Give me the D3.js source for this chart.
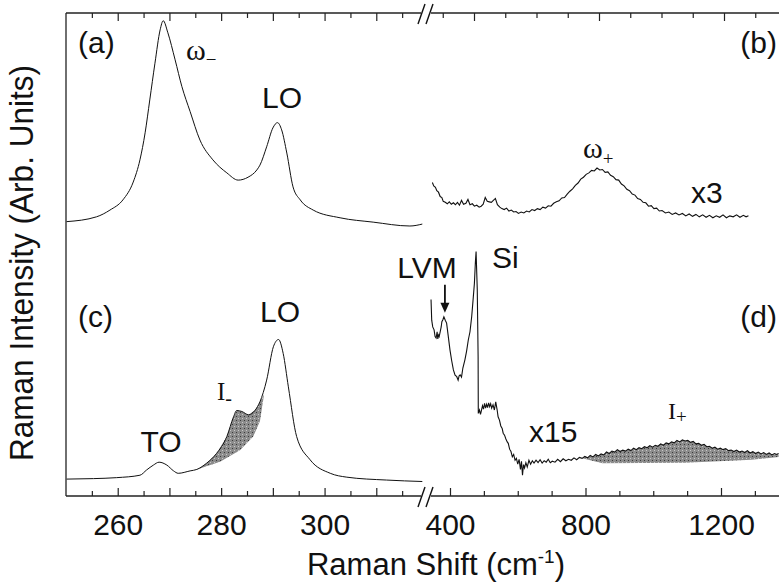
<!DOCTYPE html>
<html>
<head>
<meta charset="utf-8">
<script src="https://d3js.org/d3.v7.min.js"></script>
<style>
body { margin: 0; background: #fff; }
text { font-family: "Liberation Sans", Arial, sans-serif; fill: #111; }
.serif { font-family: "Liberation Serif", "Times New Roman", serif; }
</style>
</head>
<body>
<svg id="chart" width="779" height="583"></svg>
<script>
// panel (a): low frequency, top
var aShift = [250.1, 255.9, 258.5, 261, 263, 264.3, 265.3, 266.2, 267.2, 268.2, 268.8, 269.7, 271.1, 272.4, 274, 275.9, 278.4, 281.1, 283.3, 285.2, 286.9, 287.5, 288.8, 290, 290.9, 291.7, 292.7, 293.9, 295.3, 297.8, 303, 309.4, 316.5, 318.9];
var aInt = [56.8, 57.8, 59.2, 61.3, 65, 69.6, 75.2, 82, 89.6, 96.5, 98.4, 95.9, 90.3, 84.8, 79.6, 73.7, 69.6, 66.9, 65.4, 66, 67.5, 68.5, 72.3, 76.2, 77.3, 75.8, 71, 64, 61.3, 59.2, 57.6, 56.7, 55.9, 56.3];

// panel (b): high frequency x3, top
var bShift = [348,352,357,361,366,371,376,380,386,392,398,404,410,416,422,428,434,440,447,453,459,466,472,479,486,492,498,504,510,516,522,528,534,540,547,553,560,567,574,581,588,595,602,610,618,626,634,642,650,658,666,674,682,690,698,706,714,722,730,738,746,754,762,770,778,786,794,802,810,818,826,834,842,850,858,866,874,882,890,898,906,914,922,930,938,946,954,962,970,978,986,994,1002,1010,1018,1026,1036,1046,1056,1066,1076,1086,1096,1106,1116,1126,1136,1146,1156,1166,1176,1186,1196,1206,1216,1226,1236,1246,1256,1266,1274,1281];
var bInt = [64.9,64.2,63.9,63.2,62.9,62.0,61.8,61.0,60.8,60.5,60.9,60.4,60.7,60.3,60.8,60.2,61.2,60.4,60.6,61.4,60.3,60.5,60.0,60.2,59.8,60.0,60.4,61.8,61.0,60.9,60.8,61.2,61.6,60.3,59.8,59.5,59.3,59.6,59.0,59.2,58.8,58.9,58.5,58.8,58.6,59.0,58.8,59.3,59.1,59.5,59.3,59.8,59.6,60.1,60.0,60.6,60.9,61.1,61.7,61.8,62.5,63.1,63.6,64.3,64.8,65.6,66.0,66.6,66.9,67.4,67.3,67.9,67.5,67.6,67.0,67.1,66.4,66.1,65.5,65.4,64.6,64.2,63.5,63.2,62.5,62.3,61.6,61.4,60.8,60.7,60.0,60.1,59.5,59.6,59.0,59.1,58.6,58.8,58.3,58.6,58.2,58.5,58.0,58.4,57.9,58.3,57.8,58.2,57.7,58.1,57.6,58.0,57.7,58.2,57.6,58.0,57.8,58.2,57.7,58.1,57.8,58.0];

// panel (c): low frequency, bottom
var cShift = [250.1, 255.3, 259.8, 264.3, 265.6, 266.9, 268, 269.5, 270.8, 271.7, 274, 275.3, 277.2, 279.1, 281.1, 282.4, 283, 284, 285.3, 286.6, 287.5, 288.8, 290.1, 291.1, 292, 293, 294.6, 297.2, 301.1, 304.3, 312, 318.9];
var cInt = [3.5, 3.6, 3.8, 4.3, 5.4, 6.4, 7, 6.4, 5.2, 4.7, 5.2, 5.5, 6.8, 8.8, 12.3, 16.4, 17.7, 17.5, 16.8, 17.8, 19.5, 24, 30.9, 32.4, 29.5, 22.6, 12.3, 7.5, 4.7, 3.9, 3.3, 3];
// lower edge of the shaded I- band
var minusBaseShift = [288.3, 287.5, 286.2, 283.7, 279.8, 275.3];
var minusBaseInt = [21, 15.5, 12.3, 9.5, 7.1, 5.5];

// panel (d): high frequency x15, bottom
var dShift = [344,346,349,353,356,359,362,364,366,368,371,374,376,379,382,386,390,395,400,405,410,415,420,424,427,430,434,438,444,449,454,459,464,468,472,475,477,480.5,483,483.5,487,490,493,496,499,502,505,508,511,514,517,520,523,527,531,535,539,542,546,550,554,557,561,565,569,572,576,580,584,588,592,596,600,604,608,611,614,617,620,624,628,633,638,643,648,654,660,666,672,678,684,690,696,702,710,718,726,734,742,750,758,766,774,782,790,798,806,814,822,830,838,846,854,862,870,878,886,894,902,910,918,926,934,942,950,958,966,974,982,990,998,1006,1014,1022,1030,1038,1046,1054,1062,1070,1078,1086,1094,1102,1110,1118,1126,1134,1142,1150,1158,1166,1174,1182,1190,1198,1206,1214,1222,1230,1238,1246,1254,1262,1270,1278,1286,1294,1302,1310,1318,1326,1334,1342,1350,1358,1364,1370];
var dInt = [40.7,36.4,35.0,34.4,33.0,32.7,34.0,32.5,33.3,33.0,34.0,35.0,36.1,36.5,37.1,36.4,35.8,33.0,30.2,28.0,26.1,25.0,24.7,24.0,24.9,25.1,24.6,26.5,28.2,30.0,32.3,34.0,37.1,40.5,44.0,48.5,50.6,42.7,28.8,17.1,17.8,16.9,17.8,18.7,18.0,19.2,18.2,19.0,18.3,19.3,18.5,19.1,18.2,18.9,17.8,19.5,17.9,16.4,15.7,14.5,14.0,13.0,12.6,11.8,11.2,10.9,9.7,9.2,8.1,8.6,7.4,7.8,6.6,7.6,5.5,7.2,4.3,6.5,5.8,6.9,6.0,7.4,6.6,7.3,6.8,7.4,6.9,7.5,6.8,7.3,7.0,7.6,6.9,7.2,7.0,7.6,7.1,7.7,7.3,7.6,7.4,7.9,7.5,8.0,7.8,8.2,7.9,8.4,8.1,8.6,8.3,8.7,8.5,9.1,8.8,9.3,9.1,9.6,9.2,9.5,9.3,9.7,9.4,9.9,9.6,10.0,9.8,10.2,10.0,10.4,10.1,10.5,10.3,10.8,10.5,11.0,10.8,11.2,11.0,11.5,11.2,11.6,11.4,11.5,11.1,11.3,10.8,10.9,10.5,10.7,10.2,10.3,9.9,10.1,9.7,9.9,9.6,9.8,9.4,9.5,9.2,9.5,9.1,9.3,9.0,9.4,8.9,9.2,8.8,9.1,8.7,9.0,8.6,8.9,8.5,8.8,8.6,8.8];
// lower edge of the shaded I+ band
var plusBaseShift = [1370, 1290, 1095, 850, 790];
var plusBaseInt = [8.1, 7.5, 6.9, 6.8, 7.8];

var lvmShift = 385, lvmInt = 37.1;

// tick values
var leftMajor = [260, 270, 280, 290, 300, 310];
var leftMinor = [255, 265, 275, 285, 295, 305, 315];
var leftLabels = [260, 280, 300];
var rightMajor = [400, 800, 1200];
var rightMinor = [500, 600, 700, 900, 1000, 1100, 1300];
var topRightMinor = [300, 500, 600, 700, 900, 1000, 1100, 1300];
var rightLabels = [400, 800, 1200];

var x0 = 66, x1 = 779, yTop = 13, yBot = 496;
var breakA = 421, breakB = 431;

var svg = d3.select("#chart");

var xL = d3.scaleLinear().domain([250, 320]).range([66, 428]);
var xR = d3.scaleLinear().domain([400, 1200]).range([450, 721]);
var xT = d3.scaleLinear().domain([400, 1200]).range([474, 724]);
var y = d3.scaleLinear().domain([0, 100]).range([yBot, yTop]);

function pairs(xs, ys) {
    return xs.map(function(v, i) { return [v, ys[i]]; });
}

// stipple fill for the shaded bands
var pat = svg.append("defs").append("pattern")
    .attr("id", "stip")
    .attr("width", 4).attr("height", 4)
    .attr("patternUnits", "userSpaceOnUse");
pat.append("rect").attr("width", 4).attr("height", 4).attr("fill", "#8c8c8c");
pat.append("rect").attr("width", 1).attr("height", 1).attr("fill", "#3a3a3a");
pat.append("rect").attr("x", 2).attr("y", 2).attr("width", 1).attr("height", 1).attr("fill", "#c8c8c8");

var smoothL = d3.line()
    .x(function(d) { return xL(d[0]); })
    .y(function(d) { return y(d[1]); })
    .curve(d3.curveMonotoneX);
var flatL = d3.line()
    .x(function(d) { return xL(d[0]); })
    .y(function(d) { return y(d[1]); });
var flatR = d3.line()
    .x(function(d) { return xR(d[0]); })
    .y(function(d) { return y(d[1]); });

// shaded bands
var minusPts = pairs(cShift, cInt).filter(function(d) { return d[0] >= 275.3 && d[0] <= 288.3; })
    .concat(pairs(minusBaseShift, minusBaseInt));
svg.append("path")
    .attr("d", flatL(minusPts) + "Z")
    .attr("fill", "url(#stip)");

var plusPts = pairs(dShift, dInt).filter(function(d) { return d[0] >= 790; })
    .concat(pairs(plusBaseShift, plusBaseInt));
svg.append("path")
    .attr("d", flatR(plusPts) + "Z")
    .attr("fill", "url(#stip)");

// spectra
svg.append("path").attr("d", smoothL(pairs(aShift, aInt)))
    .attr("fill", "none").attr("stroke", "#111").attr("stroke-width", 1);
svg.append("path").attr("d", smoothL(pairs(cShift, cInt)))
    .attr("fill", "none").attr("stroke", "#111").attr("stroke-width", 1);
svg.append("path").attr("d", flatR(pairs(bShift, bInt)))
    .attr("fill", "none").attr("stroke", "#111").attr("stroke-width", 1.1);
svg.append("path").attr("d", flatR(pairs(dShift, dInt)))
    .attr("fill", "none").attr("stroke", "#111").attr("stroke-width", 1.1);

// frame lines
var segs = [[x0, yTop, breakA, yTop], [breakB, yTop, x1, yTop],
            [x0, yBot, breakA, yBot], [breakB, yBot, x1, yBot],
            [x0, yTop, x0, yBot]];
svg.selectAll(".frame").data(segs).enter().append("line")
    .attr("x1", function(d) { return d[0]; })
    .attr("y1", function(d) { return d[1]; })
    .attr("x2", function(d) { return d[2]; })
    .attr("y2", function(d) { return d[3]; })
    .attr("stroke", "#222").attr("stroke-width", 1.3);

// axis break marks
[yTop, yBot].forEach(function(yy) {
    [breakA - 3, breakB - 5].forEach(function(bx) {
        svg.append("line")
            .attr("x1", bx).attr("y1", yy + 11)
            .attr("x2", bx + 7).attr("y2", yy - 9)
            .attr("stroke", "#111").attr("stroke-width", 1.4);
    });
});

function tickRow(axis, yPos, values, size) {
    svg.append("g")
        .attr("transform", "translate(0," + yPos + ")")
        .call(axis.tickValues(values).tickSize(size).tickSizeOuter(0).tickFormat(""))
        .call(function(g) { g.select(".domain").remove(); })
        .selectAll("line").attr("stroke", "#222").attr("stroke-width", 1.2);
}

// ticks point inward on both edges
tickRow(d3.axisTop(xL), yBot, leftMajor, 8);
tickRow(d3.axisTop(xL), yBot, leftMinor, 5);
tickRow(d3.axisBottom(xL), yTop, leftMajor, 8);
tickRow(d3.axisBottom(xL), yTop, leftMinor, 5);
tickRow(d3.axisTop(xR), yBot, rightMajor, 8);
tickRow(d3.axisTop(xR), yBot, rightMinor, 5);
tickRow(d3.axisBottom(xT), yTop, rightMajor, 8);
tickRow(d3.axisBottom(xT), yTop, topRightMinor, 5);

function labelRow(scale, values) {
    svg.append("g")
        .attr("transform", "translate(0," + yBot + ")")
        .call(d3.axisBottom(scale).tickValues(values).tickSize(0).tickPadding(18).tickFormat(d3.format("d")))
        .call(function(g) { g.select(".domain").remove(); })
        .selectAll("text")
        .attr("font-size", 30)
        .attr("font-family", "'Liberation Sans', Arial, sans-serif")
        .attr("fill", "#111");
}
labelRow(xL, leftLabels);
labelRow(xR, rightLabels);

// axis titles
svg.append("text")
    .attr("transform", "translate(33,263) rotate(-90)")
    .attr("text-anchor", "middle")
    .attr("font-size", 33)
    .attr("textLength", 396)
    .attr("lengthAdjust", "spacingAndGlyphs")
    .text("Raman Intensity (Arb. Units)");

var xt = svg.append("text")
    .attr("x", 436).attr("y", 575)
    .attr("text-anchor", "middle")
    .attr("font-size", 31);
xt.append("tspan").text("Raman Shift (cm");
xt.append("tspan").attr("font-size", 19).attr("dy", -12).text("-1");
xt.append("tspan").attr("dy", 12).text(")");

function label(x, yy, txt, anchor) {
    svg.append("text")
        .attr("x", x).attr("y", yy)
        .attr("text-anchor", anchor || "start")
        .attr("font-size", 30)
        .text(txt);
}

function symbol(x, yy, main, sub, size, subSize, dy) {
    var t = svg.append("text")
        .attr("class", "serif")
        .attr("x", x).attr("y", yy)
        .attr("font-size", size);
    t.append("tspan").text(main);
    t.append("tspan").attr("font-size", subSize).attr("dy", dy).text(sub);
}

label(78, 53, "(a)");
label(282, 108, "LO", "middle");
label(777, 53, "(b)", "end");
label(691, 203, "x3");
label(78, 327, "(c)");
label(161, 452, "TO", "middle");
label(280, 322, "LO", "middle");
label(427, 278, "LVM", "middle");
label(492, 268, "Si");
label(777, 327, "(d)", "end");
label(529, 442, "x15");

symbol(186, 60, "\u03c9", "\u2212", 30, 19, 6);
symbol(583, 158, "\u03c9", "+", 30, 19, 7);
symbol(217, 400, "I", "-", 25, 20, 5);
symbol(668, 419, "I", "+", 24, 19, 4);

// arrow onto the LVM peak
var ax = xR(lvmShift), tip = y(lvmInt) - 4;
svg.append("line")
    .attr("x1", ax).attr("y1", tip - 28)
    .attr("x2", ax).attr("y2", tip - 8)
    .attr("stroke", "#111").attr("stroke-width", 1.8);
svg.append("path")
    .attr("d", "M" + (ax - 4.5) + "," + (tip - 10) + "L" + (ax + 4.5) + "," + (tip - 10) + "L" + ax + "," + tip + "Z")
    .attr("fill", "#111");
</script>
</body>
</html>
